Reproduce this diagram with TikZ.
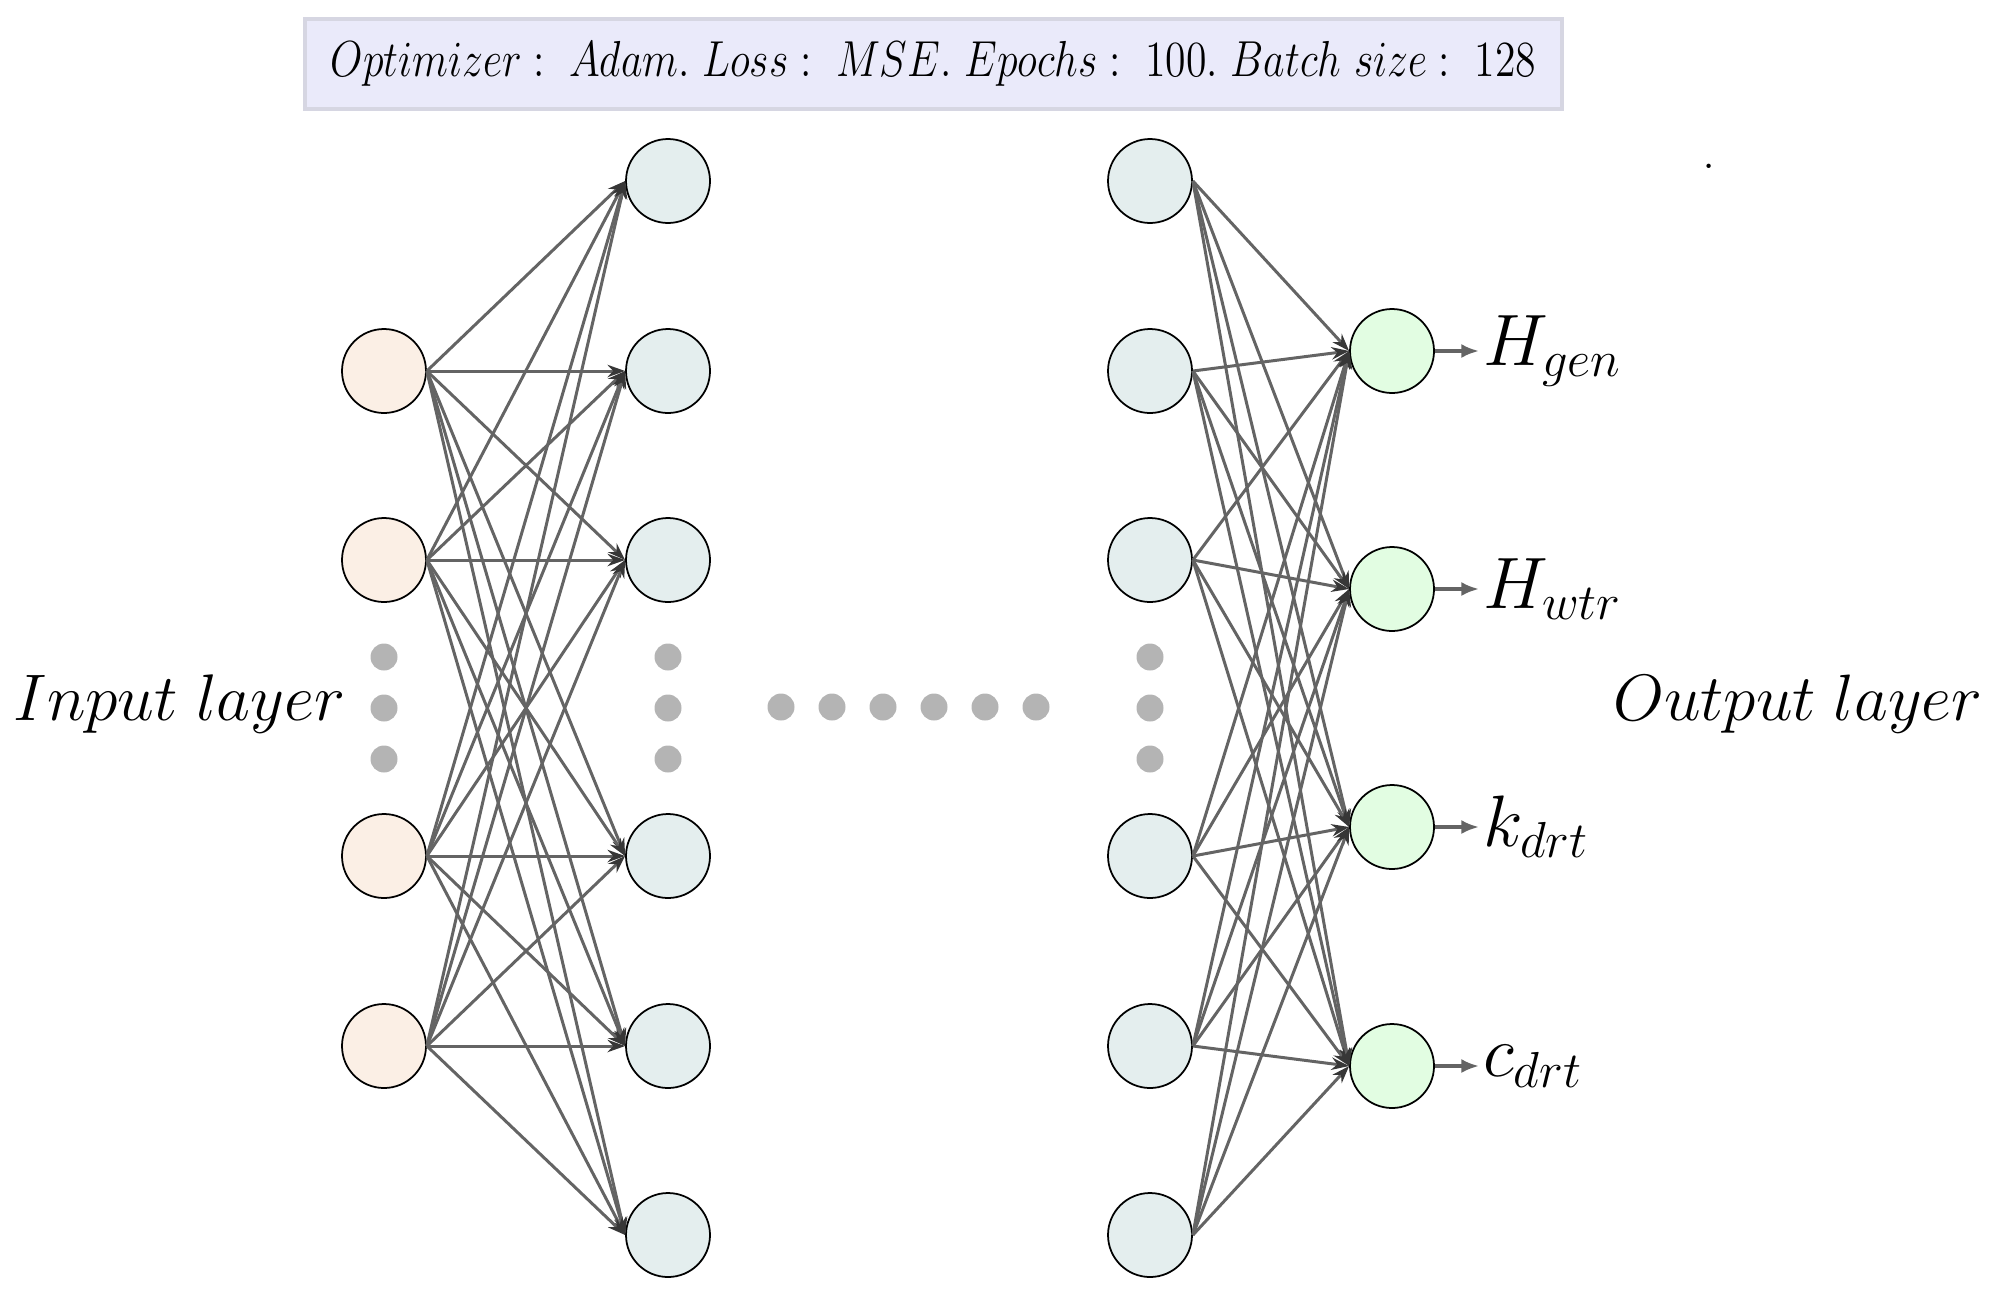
\documentclass[tikz,border=0pt]{standalone}
\usetikzlibrary{arrows.meta}
\definecolor{inFill}{RGB}{251,239,229}
\definecolor{hidFill}{RGB}{228,238,238}
\definecolor{outFill}{RGB}{226,253,226}
\definecolor{dotGray}{RGB}{180,180,180}
\definecolor{boxFill}{RGB}{234,234,250}
\definecolor{boxLine}{RGB}{214,214,226}
\definecolor{edgeGray}{RGB}{100,100,100}
\definecolor{tipGray}{RGB}{55,55,55}
\begin{document}
\begin{tikzpicture}[x=1cm,y=1cm,
 neuron/.style={circle,draw=black,line width=0.5pt,minimum size=0.84cm,inner sep=0pt},
 innode/.style={neuron,fill=inFill},
 hidnode/.style={neuron,fill=hidFill},
 outnode/.style={neuron,fill=outFill},
 edge/.style={draw=edgeGray,line width=0.85pt,-{Stealth[length=5pt,width=3.5pt,color=tipGray]}},
 outarrow/.style={draw=edgeGray,line width=0.9pt,-{Latex[length=5pt,width=4pt]}},
 gdot/.style={circle,fill=dotGray,inner sep=0pt,minimum size=0.27cm},
 biglabel/.style={font=\fontsize{19}{23}\selectfont,inner sep=0pt},
 outlabel/.style={font=\fontsize{20}{24}\selectfont,anchor=west,inner sep=1pt},
 infobox/.style={draw=boxLine,fill=boxFill,line width=1.2pt,minimum width=12.57cm,minimum height=0.9cm,inner sep=0pt,font=\fontsize{13.5}{16}\selectfont}
]
\useasboundingbox (0,0) rectangle (19.95,-12.93);

\node[infobox] (info) at (9.335,-0.64) {\scalebox{0.826}[1]{$Optimizer:\ Adam.\ Loss:\ MSE.\ Epochs:\ 100.\ Batch\ size:\ 128$}};

\foreach \y [count=\i] in {3.71,5.60,8.56,10.46}
  \node[innode] (i\i) at (3.84,-\y) {};
\foreach \y [count=\i] in {1.81,3.71,5.60,8.56,10.46,12.35} {
  \node[hidnode] (a\i) at (6.68,-\y) {};
  \node[hidnode] (b\i) at (11.50,-\y) {};
}
\foreach \y [count=\i] in {3.51,5.89,8.27,10.66}
  \node[outnode] (o\i) at (13.92,-\y) {};

\foreach \i in {1,...,4}
  \foreach \j in {1,...,6}
    \draw[edge] (i\i.east) -- (a\j.west);
\foreach \i in {1,...,6}
  \foreach \j in {1,...,4}
    \draw[edge] (b\i.east) -- (o\j.west);

\foreach \x/\n in {3.84/p,6.68/q,11.50/r}
  \foreach \y [count=\k] in {6.57,7.08,7.59}
    \node[gdot] (d\n\k) at (\x,-\y) {};
\foreach \x [count=\k] in {7.81,8.32,8.83,9.34,9.85,10.36}
  \node[gdot] (h\k) at (\x,-7.07) {};

\draw[outarrow] (o1.east) -- ++(0.44,0) coordinate (t1);
\draw[outarrow] (o2.east) -- ++(0.44,0) coordinate (t2);
\draw[outarrow] (o3.east) -- ++(0.44,0) coordinate (t3);
\draw[outarrow] (o4.east) -- ++(0.44,0) coordinate (t4);
\node[outlabel] (l1) at (t1) {$H_{gen}$};
\node[outlabel] (l2) at (t2) {$H_{wtr}$};
\node[outlabel] (l3) at (t3) {$k_{drt}$};
\node[outlabel] (l4) at (t4) {$c_{drt}$};

\node[biglabel] (inlab) at (1.795,-7.04) {\scalebox{1.085}{$Input\;layer$}};
\node[biglabel] (outlab) at (17.98,-7.04) {\scalebox{1.08}{$Output\;layer$}};

\node[font=\fontsize{15}{15}\selectfont,inner sep=0pt] (mark) at (17.09,-1.66) {.};
\end{tikzpicture}
\end{document}
